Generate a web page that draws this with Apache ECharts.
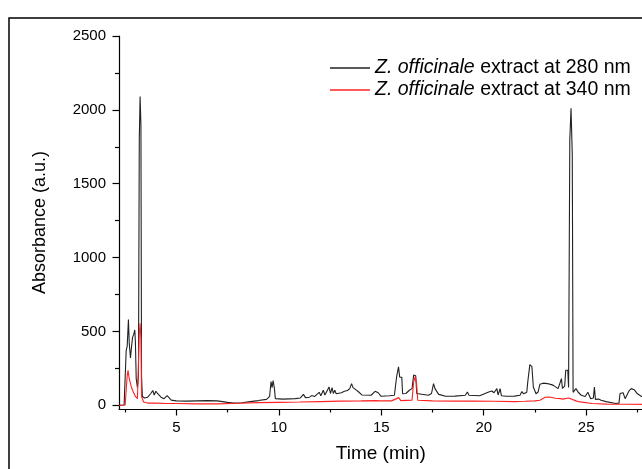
<!DOCTYPE html>
<html>
<head>
<meta charset="utf-8">
<script src="https://cdn.jsdelivr.net/npm/echarts@6/dist/echarts.min.js"></script>
<style>
html, body { margin: 0; padding: 0; overflow: hidden; background: #fff; }
#container { width: 700px; height: 469px; }
</style>
</head>
<body>
<div id="container"></div>
<script>
var seriesNames = ['Z. officinale extract at 280 nm', 'Z. officinale extract at 340 nm'];

// 280 nm trace (black)
var time280 = [2.2, 2.45, 2.52, 2.55, 2.6, 2.66, 2.7, 2.76, 2.8, 2.86, 2.92, 2.97, 3.0, 3.04, 3.1, 3.15, 3.19, 3.23, 3.27, 3.3,
	3.34, 3.45, 3.6, 3.75, 3.85, 3.92, 4.0, 4.08, 4.15, 4.25, 4.4, 4.55, 4.62, 4.75, 5.0, 5.5, 6.0, 6.5, 7.0, 7.5,
	7.8, 8.2, 8.6, 9.0, 9.4, 9.55, 9.62, 9.67, 9.72, 9.78, 9.83, 10.2, 10.8, 11.05, 11.2, 11.3, 11.5, 11.6, 11.75, 11.97,
	12.05, 12.17, 12.25, 12.33, 12.45, 12.52, 12.6, 12.66, 12.73, 12.8, 13.05, 13.2, 13.35, 13.46, 13.55, 13.62, 13.75, 13.9, 14.05, 14.5,
	14.7, 14.75, 14.85, 14.99, 15.4, 15.64, 15.75, 15.84, 15.9, 16.0, 16.04, 16.2, 16.37, 16.5, 16.58, 16.68, 16.73, 16.8, 17.3, 17.45,
	17.55, 17.62, 17.8, 18.14, 18.6, 19.1, 19.2, 19.28, 19.8, 20.24, 20.4, 20.5, 20.64, 20.7, 20.8, 20.86, 21.1, 21.5, 21.77, 21.86,
	21.95, 22.1, 22.15, 22.25, 22.35, 22.42, 22.55, 22.65, 22.74, 22.9, 23.1, 23.3, 23.4, 23.63, 23.72, 23.79, 23.84, 23.95, 24.0, 24.1,
	24.14, 24.2, 24.26, 24.32, 24.36, 24.5, 24.6, 24.76, 24.95, 25.08, 25.16, 25.22, 25.35, 25.4, 25.45, 25.6, 25.73, 25.97, 26.45, 26.6,
	26.65, 26.8, 26.9, 27.1, 27.2, 27.34, 27.5, 27.7, 28.0];
var abs280 = [0, 2, 5, 370, 400, 580, 420, 320, 380, 460, 480, 510, 430, 180, 120, 200, 1800, 2090, 1900, 200,
	60, 50, 55, 80, 100, 70, 95, 80, 85, 55, 45, 65, 60, 35, 30, 28, 30, 32, 30, 20,
	15, 17, 25, 32, 40, 60, 160, 120, 168, 120, 45, 42, 45, 50, 74, 52, 55, 66, 60, 88,
	65, 102, 70, 68, 124, 80, 120, 80, 102, 78, 85, 95, 100, 113, 147, 120, 106, 90, 70, 68,
	95, 102, 85, 61, 65, 68, 195, 260, 190, 190, 78, 80, 102, 113, 205, 200, 80, 68, 68, 80,
	147, 113, 74, 61, 62, 68, 90, 68, 65, 90, 97, 85, 113, 70, 113, 65, 61, 62, 68, 93,
	78, 88, 160, 275, 262, 124, 78, 90, 142, 150, 147, 140, 135, 113, 120, 181, 115, 130, 237, 237,
	120, 1800, 2010, 1700, 88, 113, 90, 68, 60, 88, 88, 45, 50, 124, 40, 42, 34, 25, 12, 15,
	80, 85, 45, 100, 113, 106, 78, 60, 50];

// 340 nm trace (red)
var time340 = [2.2, 2.5, 2.56, 2.6, 2.64, 2.7, 2.8, 2.9, 3.0, 3.1, 3.16, 3.19, 3.23, 3.27, 3.3, 3.4, 3.6, 4.0, 4.5, 5.0,
	6.0, 7.0, 8.0, 9.0, 10.0, 11.0, 12.0, 13.0, 14.0, 14.75, 14.8, 14.9, 15.5, 15.85, 15.95, 16.5, 16.58, 16.66, 16.72, 16.78,
	17.5, 18.5, 19.5, 20.5, 21.5, 22.0, 22.5, 22.74, 23.0, 23.2, 23.5, 23.75, 23.8, 23.85, 24.15, 24.2, 24.5, 24.7, 25.3, 26.0,
	27.0, 28.0];
var abs340 = [0, 2, 5, 200, 237, 180, 124, 90, 60, 45, 50, 480, 555, 450, 60, 22, 15, 15, 12, 12,
	10, 10, 14, 18, 20, 22, 25, 28, 30, 32, 45, 30, 30, 52, 32, 35, 158, 195, 150, 34,
	30, 28, 28, 27, 25, 27, 30, 34, 55, 56, 48, 45, 55, 42, 50, 42, 30, 23, 12, 8,
	7, 6];

var xMajorTicks = [5, 10, 15, 20, 25, 30];
var xMinorTicks = [2.5, 7.5, 12.5, 17.5, 22.5, 27.5];
var yMajorTicks = [0, 500, 1000, 1500, 2000, 2500];
var yMinorTicks = [250, 750, 1250, 1750, 2250];

var font = "'Liberation Sans', Arial, sans-serif";

var chart = echarts.init(document.getElementById('container'));

function pairs(xs, ys) {
	return xs.map(function (t, i) { return [t, ys[i]]; });
}

var option = {
	animation: false,
	backgroundColor: '#fff',
	textStyle: { fontFamily: font },
	grid: { left: 119, right: 7, top: 36, bottom: 60 },
	graphic: [{
		type: 'rect',
		silent: true,
		shape: { x: 9, y: 18, width: 900, height: 700 },
		style: { fill: 'none', stroke: '#000', lineWidth: 1.5 }
	}],
	legend: {
		orient: 'vertical',
		left: 325,
		top: 53,
		icon: 'rect',
		itemWidth: 40,
		itemHeight: 1.3,
		itemGap: 2,
		data: seriesNames,
		formatter: function (name) {
			var p = name.split(' extract');
			return '{i|' + p[0] + '}{n| extract' + p[1] + '}';
		},
		textStyle: {
			fontFamily: font,
			rich: {
				i: { fontStyle: 'italic', fontSize: 19.5, fontFamily: font, color: '#000', lineHeight: 20 },
				n: { fontSize: 19.5, fontFamily: font, color: '#000', lineHeight: 20 }
			}
		}
	},
	xAxis: [{
		type: 'value',
		min: 2.2,
		max: 30,
		position: 'bottom',
		name: 'Time (min)',
		nameLocation: 'middle',
		nameGap: 35,
		nameTextStyle: { fontSize: 19, color: '#000', fontFamily: font, padding: [0, 46, 0, 0] },
		axisLine: { onZero: false, lineStyle: { color: '#000', width: 1.2 } },
		axisTick: { customValues: xMajorTicks, length: 6.5, lineStyle: { color: '#000', width: 1.2 } },
		axisLabel: { customValues: xMajorTicks, margin: 11, fontSize: 15, color: '#000', fontFamily: font },
		splitLine: { show: false }
	}, {
		type: 'value',
		min: 2.2,
		max: 30,
		position: 'bottom',
		axisLine: { show: false, onZero: false },
		axisTick: { customValues: xMinorTicks, length: 3.5, lineStyle: { color: '#000', width: 1.2 } },
		axisLabel: { show: false },
		splitLine: { show: false }
	}],
	yAxis: [{
		type: 'value',
		min: -25,
		max: 2500,
		position: 'left',
		name: 'Absorbance (a.u.)',
		nameLocation: 'middle',
		nameGap: 70,
		nameTextStyle: { fontSize: 18, color: '#000', fontFamily: font },
		axisLine: { show: true, onZero: false, lineStyle: { color: '#000', width: 1.2 } },
		axisTick: { show: true, customValues: yMajorTicks, length: 6.5, lineStyle: { color: '#000', width: 1.2 } },
		axisLabel: {
			customValues: yMajorTicks, margin: 13, fontSize: 15, color: '#000', fontFamily: font,
			formatter: function (v) { return String(v); }
		},
		splitLine: { show: false }
	}, {
		type: 'value',
		min: -25,
		max: 2500,
		position: 'left',
		axisLine: { show: false, onZero: false },
		axisTick: { show: true, customValues: yMinorTicks, length: 4, lineStyle: { color: '#000', width: 1.2 } },
		axisLabel: { show: false },
		splitLine: { show: false }
	}],
	series: [{
		name: seriesNames[0],
		type: 'line',
		symbol: 'none',
		color: '#222',
		lineStyle: { color: '#222', width: 1.1 },
		data: pairs(time280, abs280)
	}, {
		name: seriesNames[1],
		type: 'line',
		symbol: 'none',
		color: '#ff2222',
		lineStyle: { color: '#ff2222', width: 1.1 },
		data: pairs(time340, abs340)
	}]
};

chart.setOption(option);
</script>
</body>
</html>
